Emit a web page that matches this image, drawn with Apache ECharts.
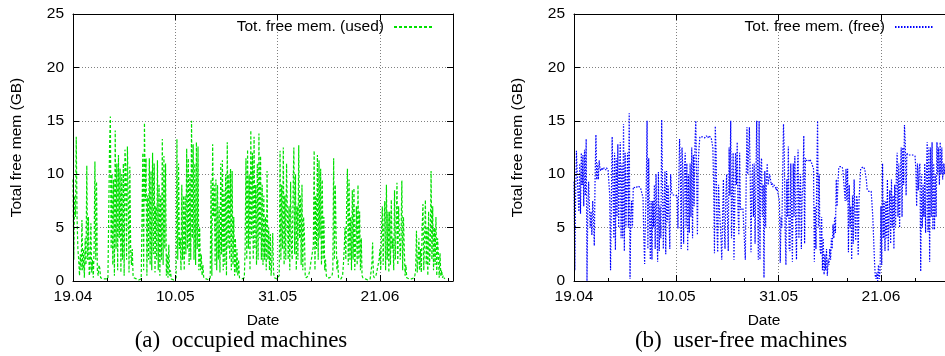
<!DOCTYPE html>
<html>
<head>
<meta charset="utf-8">
<script src="https://cdn.jsdelivr.net/npm/echarts@6/dist/echarts.min.js"></script>
<style>
  html, body { margin: 0; padding: 0; background: #fff; }
  #chart { width: 945px; height: 356px; }
</style>
</head>
<body>
<div id="chart"></div>
<script>
// Sampling: six readings per day, day 0 = 19.04
const STEP_DAYS = 1 / 6;
const DAY_MAX = 78;
const LABEL_STEP_DAYS = 21;
const WEEK_DAYS = 7;
const dateLabels = ['19.04', '10.05', '31.05', '21.06'];
const memMax = 25;
const memStep = 5;

// Total free memory on occupied machines (GB), one row per day
const usedMem = [
  9.5, 2, 8, 6, 13.5, 6,
  3, 2, 0.5, 2.5, 1, 5.7,
  1, 3, 0.3, 4, 1.5, 10.8,
  2, 6, 0.5, 1, 5.4, 0.8,
  2, 0.3, 3, 11.2, 2, 9.3,
  1, 0.5, 1.5, 1.2, 0.3, 0.2,
  0.2, 0.2, 0.1, 0.1, 0.2, 0.2,
  0.1, 0.2, 0.2, 12.5, 15.4, 3,
  10, 1.5, 9.5, 0.5, 14.1, 3,
  11, 1, 11.8, 4, 10.5, 0.8,
  10, 2, 11, 0.5, 12.3, 10.5,
  2, 12.6, 8, 0.8, 10.7, 3,
  1.5, 3, 0.5, 0.3, 0.3, 0.2,
  0.2, 0.2, 0.2, 0.1, 0.1, 0.2,
  0.2, 0.3, 12, 1, 14.8, 7.5,
  11.5, 0.5, 8, 2, 11.5, 1.5,
  10.3, 1, 12, 2.5, 11, 0.8,
  7, 2, 11.3, 1, 9, 0.5,
  8, 2, 13.3, 1.5, 11.7, 3,
  11, 0.5, 2.5, 0.3, 3.4, 0.5,
  1, 0.2, 0.1, 0.1, 0.1, 0.1,
  0.1, 0.3, 13.3, 2, 11, 3,
  4, 1, 9, 2, 8, 1,
  8, 2.5, 12.4, 3, 11.5, 1.5,
  10, 2, 15, 4, 12.8, 2,
  11, 1.5, 13, 3, 12.6, 1,
  5, 1, 2.5, 0.5, 1.5, 0.3,
  0.3, 0.2, 0.2, 0.2, 0.1, 0.1,
  0.2, 0.3, 9.5, 0.5, 12.8, 6,
  9, 1.5, 9.5, 1, 9, 2,
  7, 0.8, 11, 2.5, 11.3, 1,
  8.5, 1.5, 10, 0.5, 13, 3,
  10, 2, 10.5, 1, 10.3, 1.5,
  6, 0.5, 4, 0.8, 3, 0.5,
  2, 0.3, 0.3, 0.2, 0.2, 0.3,
  0.3, 0.3, 3, 11.5, 2, 12.3,
  3, 10, 1, 14.1, 4, 12,
  2, 13.5, 3, 9, 1.5, 11,
  2, 13.8, 4, 11.7, 2, 9,
  1.5, 8, 2, 6, 1, 10.3,
  2, 5, 1, 4.4, 0.5, 2,
  4.5, 0.8, 0.3, 0.2, 0.2, 0.2,
  0.2, 0.3, 0.5, 12.2, 2, 9,
  3, 12.5, 1.5, 8, 2, 11,
  11, 2, 7, 1, 9.3, 3,
  2, 8, 12.5, 2.5, 10, 1,
  7, 2, 12.7, 4, 8, 1.5,
  9, 1, 6, 4.4, 0.5, 0.3,
  0.2, 0.3, 0.5, 0.8, 1.2, 1.8,
  2.2, 2.8, 3.2, 12.2, 1, 8,
  3, 11.8, 2, 11.3, 4, 10.5,
  1.5, 9.5, 2, 6, 1, 2,
  0.5, 0.3, 0.2, 0.2, 0.3, 0.2,
  0.3, 0.5, 1, 11.5, 2, 9,
  4.5, 1, 2, 0.3, 0.2, 0.3,
  0.2, 0.3, 0.5, 1.5, 3, 5,
  2, 7, 10.5, 1.5, 9.5, 2,
  6, 1, 8.5, 2, 8.7, 1,
  3, 7, 1.5, 9, 2, 6.5,
  1, 4, 0.5, 0.3, 0.2, 0.2,
  0.2, 0.2, 0.2, 0.1, 0.2, 0.2,
  0.2, 0.3, 1.5, 3.6, 0.5, 0.3,
  0.3, 0.5, 0.8, 1.2, 1.6, 2,
  3, 1, 5, 7, 1.5, 5,
  7.5, 1, 9, 2, 6.5, 0.8,
  6.5, 1.5, 7.6, 3, 4, 1,
  8.5, 2, 5, 9.2, 1.5, 7,
  7, 2, 4, 9.4, 1, 6,
  3, 0.5, 1.5, 0.3, 0.2, 0.2,
  0.2, 0.2, 0.3, 0.2, 0.2, 0.3,
  0.3, 0.5, 1, 4.7, 0.8, 2,
  4, 1, 3, 0.8, 5, 7.2,
  1, 4, 7.6, 1.5, 5, 0.5,
  6.5, 1.5, 3, 10.3, 2, 7,
  1, 5, 1.5, 6, 0.5, 4,
  2.5, 0.3, 2.6, 0.5, 1, 0.3,
  0.5, 0.3, 0.2
];

// Total free memory on user-free machines (GB), one row per day
const freeMem = [
  9.3, 1, 8, 12.2, 10, 8,
  6.5, 11, 6.3, 12, 9, 11.8,
  7, 12.3, 8, 13.3, 0, 6.5,
  9.3, 7, 5, 6.5, 4.3, 7.5,
  6, 3.3, 9.8, 13.7, 9.5, 11,
  9.5, 11.3, 10.5, 10.3, 10.6, 10.5,
  10.4, 10.6, 10.5, 10.4, 10.6, 10.5,
  10.4, 10.5, 8, 1, 7.5, 13.5,
  13.5, 4, 12, 2.9, 11.5, 6,
  12.8, 5, 10, 13, 4, 11,
  4, 14.7, 2.8, 12, 5, 9,
  12, 5, 15.7, 0.2, 6, 7.5,
  5, 8.8, 8.9, 8.8, 8.7, 8.8,
  8.8, 8.9, 8.8, 8.8, 8.7, 8.8,
  8.8, 7.8, 4, 1.6, 6, 9,
  15, 3, 11.5, 6, 2, 7.5,
  2, 7.5, 5, 9, 3, 10,
  6, 1.8, 10.2, 2.8, 7, 4,
  15.1, 9, 3, 7, 10.3, 2.5,
  10.3, 5.5, 9, 6, 3, 10,
  8.5, 8.1, 8.2, 8.1, 8, 8.1,
  8.1, 8, 4.9, 9, 13.3, 11,
  3, 12.5, 10.5, 3.5, 10.5, 12,
  5, 11, 2.8, 10, 4.5, 11,
  6, 12.5, 4, 11.8, 7, 13,
  15, 10, 4.3, 11, 12.5, 13.5,
  13.4, 13.6, 13.5, 13.6, 13.5, 13.4,
  13.5, 13.6, 13.5, 13.4, 13.6, 13.5,
  13.5, 13.4, 13.5, 12.5, 9, 2.6,
  14.5, 12, 5, 2.7, 9, 7,
  7, 4, 2, 6, 9.5, 5,
  3, 8, 10, 6, 2.8, 12.5,
  8, 15, 4, 8, 12, 2,
  7, 12, 9, 13, 6.5, 4.3,
  12, 6.7, 6.7, 6.7, 6.8, 6.7,
  6.7, 2, 9, 14.4, 10, 12,
  14.4, 10, 2.7, 8.5, 11, 6,
  11, 3.5, 9, 15, 10.5, 2,
  15, 2, 10.5, 11.5, 6, 9,
  0.3, 10.3, 5, 9.5, 11, 9,
  9, 10, 9.5, 9, 9.2, 8.8,
  9, 8.9, 8.8, 8.5, 8.8, 8.3,
  8.2, 7.5, 1.7, 6, 5, 10,
  14.7, 12, 5, 1.5, 9.5, 6,
  12.6, 3, 2.8, 11, 6, 1.8,
  11, 6, 11.7, 5, 2, 10,
  12.3, 4, 8.5, 10, 3, 8,
  9, 13.6, 3.5, 11.5, 11.3, 11.4,
  11.3, 11.2, 11.4, 11.3, 11.2, 11.3,
  11.3, 10.5, 1.8, 7, 3, 10,
  15, 5, 10, 3, 2.5, 6,
  1, 4, 0.6, 2.5, 1, 3,
  0.5, 2, 1.5, 3, 2, 4,
  3, 5.3, 4, 6, 4.5, 9.5,
  7, 9, 10.5, 10.7, 10.6, 10.6,
  10.7, 10.5, 10.6, 10.4, 7.5, 10.5,
  7.5, 10.5, 2.7, 9, 5, 7,
  2, 8, 3.5, 9.5, 6, 3.8,
  8, 7.5, 2.4, 7.5, 9, 10.5,
  10.6, 10.5, 10.7, 10.6, 10.5, 10.6,
  9.5, 8.6, 8.5, 8.4, 8.5, 8.5,
  8.4, 8.5, 6, 4, 2, 0.5,
  0.2, 0.8, 0, 1.5, 0.2, 1,
  7, 1.5, 11, 4, 7.5, 2.8,
  7.5, 4, 9.5, 2.8, 6, 8.5,
  3.5, 9.5, 5, 8, 3, 9,
  5, 10, 12, 6, 11, 5,
  10, 12.5, 6, 12.5, 9, 14.6,
  13, 8, 12, 11.8, 11.9, 11.7,
  11.8, 11.9, 11.7, 11.8, 11.9, 11.8,
  11.7, 10.5, 7, 11, 8.5, 10.5,
  11, 0.9, 10, 5, 9, 6,
  11, 4.5, 10, 13, 4.6, 12.5,
  1.8, 12.5, 6, 13, 4.8, 11,
  4.8, 10, 6, 13, 10, 12.5,
  9, 13, 10, 12.5, 9.5, 11,
  10, 11, 10.5, 11.5, 10.8, 11
];

const SANS = '"Liberation Sans", Arial, Helvetica, sans-serif';
const SERIF = '"Liberation Serif", "Times New Roman", serif';
const FONT_SIZE = 15.5;

const panels = [
  { left: 73, name: 'Tot. free mem. (used)', values: usedMem, color: '#00e000', dash: [3, 2],
    legendRight: 511, caption: '(a)\u2002occupied machines', captionX: 241 },
  { left: 574, name: 'Tot. free mem. (free)', values: freeMem, color: '#0000ff', dash: [1.5, 1.5],
    legendRight: 10, caption: '(b)\u2002user-free machines', captionX: 741 }
];

const PLOT_TOP = 14, PLOT_W = 380, PLOT_H = 267;
const frameLine = { show: true, onZero: false, lineStyle: { color: '#000', width: 1 } };
const gridLine = { show: true, lineStyle: { color: '#808080', width: 1, type: [1, 2] } };
const labelText = { color: '#000', fontSize: FONT_SIZE, fontFamily: SANS };

const grids = [], xAxes = [], yAxes = [], series = [], legends = [], graphics = [];

panels.forEach((p, i) => {
  grids.push({ left: p.left, top: PLOT_TOP, width: PLOT_W, height: PLOT_H,
               outerBoundsMode: 'none', containLabel: false });

  const xBase = { type: 'value', gridIndex: i, min: 0, max: DAY_MAX,
                  axisLine: { show: false, onZero: false }, axisTick: { show: false },
                  axisLabel: { show: false }, splitLine: { show: false } };
  // bottom axis carrying the data, labels and name
  xAxes.push(Object.assign({}, xBase, {
    position: 'bottom', interval: LABEL_STEP_DAYS, z: 3,
    axisLine: frameLine,
    axisTick: { show: true, inside: true, length: 6, lineStyle: { color: '#000' } },
    axisLabel: { show: true, margin: 8, ...labelText,
                 formatter: v => dateLabels[v / LABEL_STEP_DAYS] || '' },
    name: 'Date', nameLocation: 'middle', nameGap: 32, nameTextStyle: labelText
  }));
  // dotted grid lines
  xAxes.push(Object.assign({}, xBase, { position: 'bottom', interval: LABEL_STEP_DAYS, z: 0,
                                        splitLine: gridLine }));
  // weekly minor ticks
  xAxes.push(Object.assign({}, xBase, { position: 'bottom', interval: WEEK_DAYS, z: 3,
    axisTick: { show: true, inside: true, length: 3, lineStyle: { color: '#000' } } }));
  // top frame edge
  xAxes.push(Object.assign({}, xBase, { position: 'top', interval: LABEL_STEP_DAYS, z: 3,
    axisLine: frameLine,
    axisTick: { show: true, inside: true, length: 6, lineStyle: { color: '#000' } } }));

  const yBase = { type: 'value', gridIndex: i, min: 0, max: memMax, interval: memStep,
                  axisLine: { show: false, onZero: false }, axisTick: { show: false },
                  axisLabel: { show: false }, splitLine: { show: false } };
  yAxes.push(Object.assign({}, yBase, {
    position: 'left', z: 3, axisLine: frameLine,
    axisTick: { show: true, inside: true, length: 6, lineStyle: { color: '#000' } },
    axisLabel: { show: true, margin: 9, ...labelText },
    name: 'Total free mem (GB)', nameLocation: 'middle', nameGap: 48, nameTextStyle: labelText
  }));
  yAxes.push(Object.assign({}, yBase, { position: 'left', z: 0, splitLine: gridLine }));
  yAxes.push(Object.assign({}, yBase, { position: 'right', z: 3, axisLine: frameLine,
    axisTick: { show: true, inside: true, length: 6, lineStyle: { color: '#000' } } }));

  series.push({
    type: 'line', name: p.name, xAxisIndex: i * 4, yAxisIndex: i * 3,
    data: p.values.map((v, k) => [k * STEP_DAYS, v]),
    symbol: 'none', showSymbol: false, z: 2,
    lineStyle: { color: p.color, width: 1.2, type: p.dash },
    itemStyle: { color: p.color },
    emphasis: { disabled: true }
  });

  // legend entry: line sample only, text placed to its left
  legends.push({
    data: [p.name], right: p.legendRight, top: 19, orient: 'horizontal', align: 'right',
    itemWidth: 39, itemHeight: 14, padding: 0, selectedMode: false,
    itemStyle: { opacity: 0, borderWidth: 0 },
    textStyle: { ...labelText, padding: [0, 5, 0, 0] }
  });

  graphics.push({
    type: 'text', x: p.captionX, y: 341, z: 10,
    style: { text: p.caption, fontSize: 23, fontFamily: SERIF, fill: '#000',
             align: 'center', verticalAlign: 'middle' }
  });
});

const chart = echarts.init(document.getElementById('chart'), null, { renderer: 'canvas' });
chart.setOption({
  animation: false,
  backgroundColor: '#fff',
  grid: grids,
  xAxis: xAxes,
  yAxis: yAxes,
  legend: legends,
  series: series,
  graphic: graphics
});
</script>
</body>
</html>
